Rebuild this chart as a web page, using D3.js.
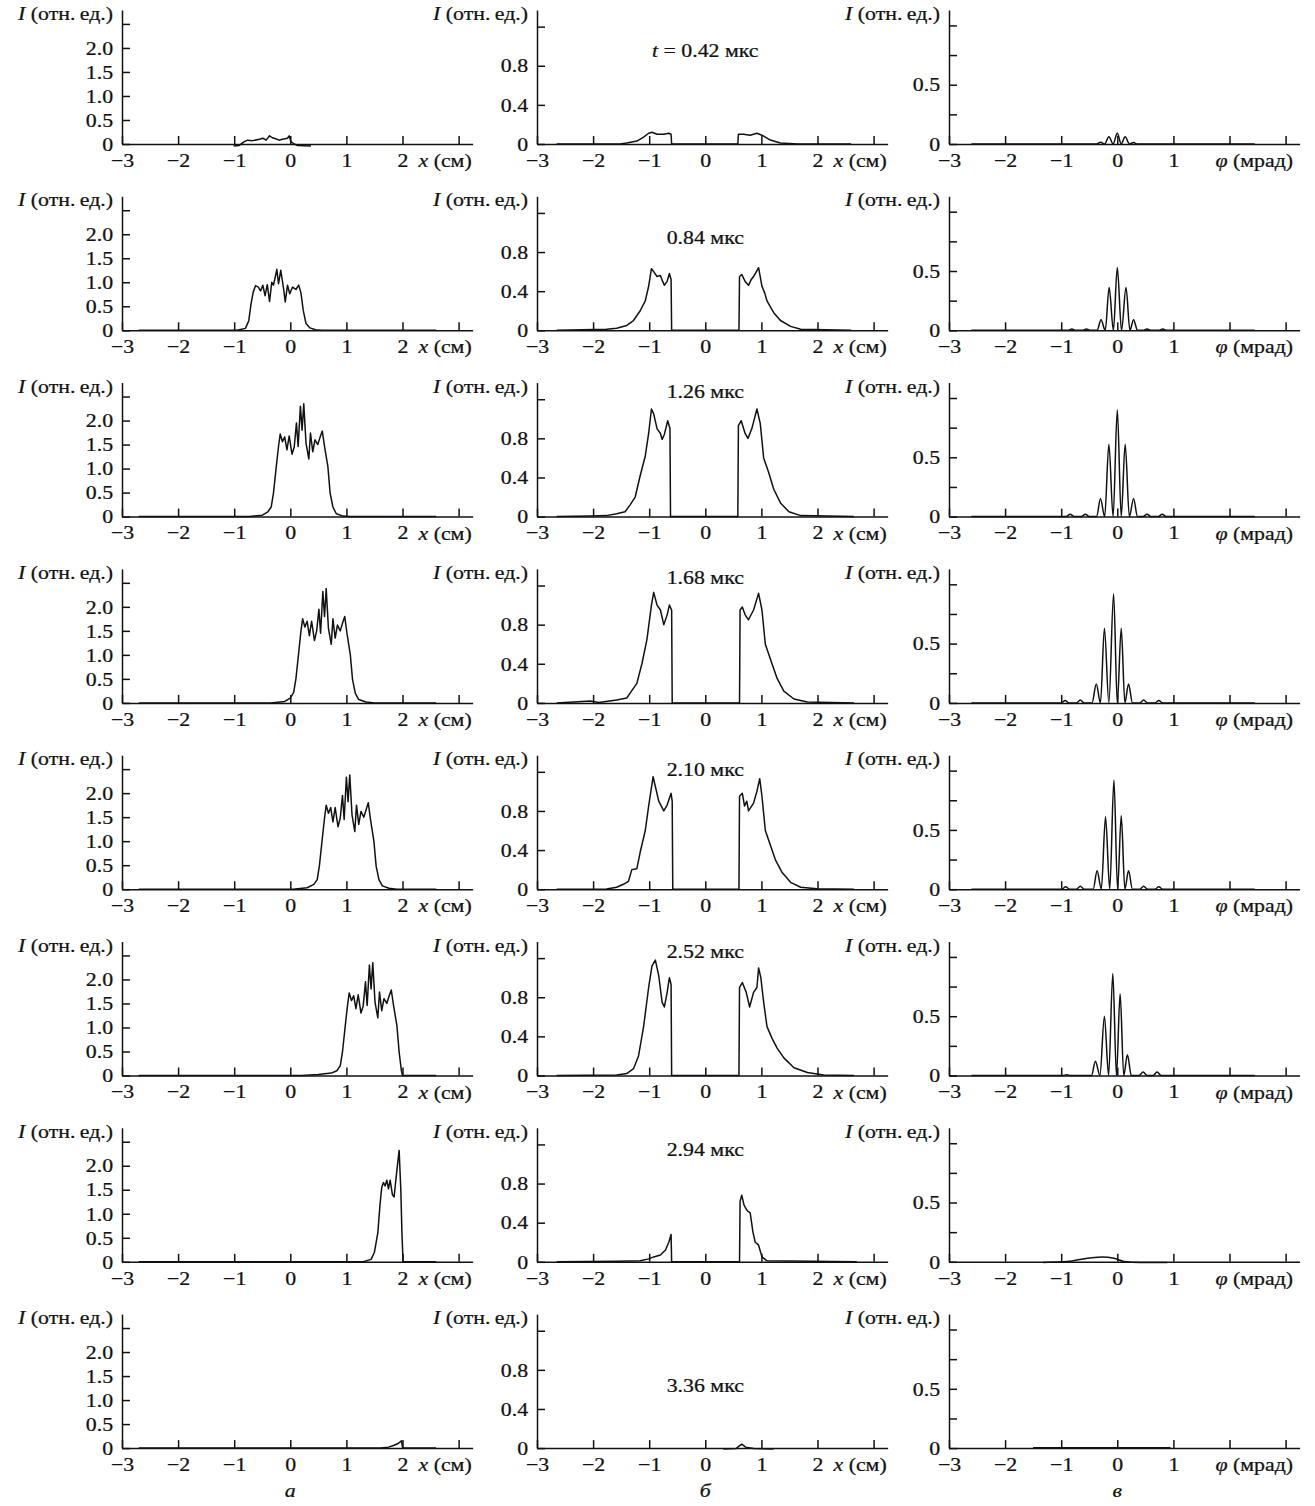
<!DOCTYPE html>
<html>
<head>
<meta charset="utf-8">
<script src="https://cdn.jsdelivr.net/npm/d3@7"></script>
<style>
body { margin: 0; background: #fff; }
svg text { font-family: "Liberation Serif", "Times New Roman", serif; font-size: 19.5px; fill: #111; stroke: #111; stroke-width: 0.25px; white-space: pre; }
</style>
</head>
<body>
<div id="vis"></div>
<script>
// tick values and labels
const xTicks = [-3, -2, -1, 0, 1, 2, 3]
const yTicksA = [0, 0.5, 1, 1.5, 2, 2.5]
const yLabelsA = ['0', '0.5', '1.0', '1.5', '2.0', '']
const yTicksB = [0, 0.4, 0.8, 1.2]
const yLabelsB = ['0', '0.4', '0.8', '']
const yTicksC = [0, 0.25, 0.5, 0.75, 1]
const yLabelsC = ['0', '', '0.5', '', '']
const times = ['0.42', '0.84', '1.26', '1.68', '2.10', '2.52', '2.94', '3.36']
const columnNames = ['а', 'б', 'в']

// column а : near field, x (cm) vs I
const aRow1 = [[-1.01,-0.04],[-0.91,-0.03],[-0.82,0.05],[-0.76,0.08],[-0.67,0.07],[-0.55,0.1],[-0.49,0.12],[-0.43,0.08],[-0.37,0.17],[-0.32,0.13],[-0.26,0.11],[-0.2,0.08],[-0.14,0.1],[-0.05,0.12],[-0.02,0.17],[0.01,0.05],[0.07,0],[0.13,-0.03],[0.37,-0.04]]
const aRow2 = [[-2.7,0],[-0.95,0],[-0.8,0.04],[-0.74,0.2],[-0.7,0.55],[-0.66,0.8],[-0.62,0.93],[-0.57,0.9],[-0.53,0.82],[-0.49,0.94],[-0.45,0.72],[-0.41,0.95],[-0.37,0.6],[-0.33,1.0],[-0.3,0.94],[-0.27,1.1],[-0.24,1.27],[-0.21,0.97],[-0.17,1.25],[-0.12,0.87],[-0.09,0.59],[-0.05,0.94],[-0.01,0.76],[0.04,0.9],[0.1,0.85],[0.15,0.94],[0.19,0.78],[0.23,0.42],[0.28,0.14],[0.35,0.05],[0.45,0.01],[0.55,0],[2.6,0]]
const aRow3 = [[-2.7,0],[-0.73,0],[-0.5,0.03],[-0.4,0.1],[-0.34,0.2],[-0.3,0.49],[-0.25,1.04],[-0.21,1.46],[-0.18,1.72],[-0.14,1.56],[-0.1,1.66],[-0.06,1.39],[-0.02,1.68],[0.03,1.3],[0.07,1.45],[0.11,1.95],[0.14,1.46],[0.18,2.3],[0.21,1.8],[0.24,2.35],[0.28,1.53],[0.33,1.2],[0.36,1.74],[0.4,1.35],[0.44,1.6],[0.49,1.5],[0.53,1.65],[0.57,1.78],[0.61,1.46],[0.67,1.04],[0.71,0.49],[0.76,0.2],[0.82,0.06],[0.94,0.01],[1.06,0],[2.6,0]]
const aRow4 = [[-2.7,0],[-0.35,0],[-0.1,0.03],[0.0,0.1],[0.06,0.22],[0.1,0.5],[0.15,1.05],[0.19,1.5],[0.22,1.75],[0.26,1.58],[0.3,1.7],[0.34,1.4],[0.38,1.7],[0.43,1.3],[0.47,1.5],[0.51,1.95],[0.54,1.45],[0.58,2.32],[0.61,1.8],[0.64,2.38],[0.68,1.55],[0.73,1.22],[0.76,1.75],[0.8,1.35],[0.84,1.62],[0.89,1.5],[0.93,1.66],[0.97,1.8],[1.01,1.45],[1.07,1.0],[1.11,0.48],[1.16,0.2],[1.22,0.07],[1.35,0.02],[1.5,0],[2.6,0]]
const aRow5 = [[-2.7,0],[0.05,0],[0.3,0.03],[0.42,0.1],[0.48,0.2],[0.52,0.5],[0.57,1.05],[0.61,1.48],[0.64,1.75],[0.68,1.58],[0.72,1.7],[0.76,1.4],[0.8,1.7],[0.85,1.3],[0.89,1.48],[0.93,1.95],[0.96,1.45],[1.0,2.33],[1.03,1.82],[1.06,2.38],[1.1,1.55],[1.15,1.2],[1.18,1.75],[1.22,1.35],[1.26,1.62],[1.31,1.5],[1.35,1.65],[1.39,1.8],[1.43,1.45],[1.49,1.0],[1.53,0.48],[1.58,0.2],[1.64,0.07],[1.76,0.02],[1.9,0],[2.6,0]]
const aRow6 = [[-2.7,0],[0.2,0],[0.5,0.02],[0.73,0.05],[0.83,0.1],[0.89,0.2],[0.93,0.49],[0.98,1.04],[1.02,1.46],[1.05,1.72],[1.09,1.56],[1.13,1.66],[1.17,1.39],[1.21,1.68],[1.26,1.3],[1.3,1.45],[1.34,1.95],[1.37,1.46],[1.41,2.3],[1.44,1.8],[1.47,2.35],[1.51,1.53],[1.56,1.2],[1.59,1.74],[1.63,1.35],[1.67,1.6],[1.72,1.5],[1.76,1.65],[1.8,1.78],[1.84,1.46],[1.9,1.04],[1.94,0.49],[1.98,0.1],[2.0,0],[2.6,0]]
const aRow7 = [[-2.7,0],[1.3,0],[1.44,0.05],[1.5,0.2],[1.56,0.6],[1.6,1.2],[1.63,1.55],[1.66,1.65],[1.69,1.58],[1.72,1.7],[1.75,1.52],[1.78,1.7],[1.82,1.4],[1.85,1.35],[1.89,1.8],[1.94,2.32],[1.97,1.5],[1.99,0.6],[2.01,0],[2.6,0]]
const aRow8 = [[-2.7,0],[1.6,0],[1.75,0.02],[1.85,0.06],[1.93,0.1],[1.98,0.15],[2.0,0.02],[2.02,0],[2.6,0]]

// column б : x (cm) vs I, two wings around the aperture
const bRow1 = [[-2.65,0],[-1.52,0],[-1.4,0.01],[-1.22,0.03],[-1.1,0.07],[-1.01,0.11],[-0.95,0.12],[-0.86,0.1],[-0.74,0.1],[-0.65,0.11],[-0.61,0.1],[-0.6,0],[0.58,0],[0.59,0.1],[0.68,0.1],[0.8,0.09],[0.92,0.11],[1.01,0.09],[1.16,0.04],[1.34,0.01],[1.64,0],[2.6,0]]
const bRow2 = [[-2.65,0],[-1.76,0.01],[-1.58,0.02],[-1.4,0.05],[-1.28,0.1],[-1.16,0.2],[-1.07,0.3],[-1.01,0.45],[-0.96,0.63],[-0.92,0.6],[-0.86,0.55],[-0.8,0.56],[-0.76,0.5],[-0.73,0.46],[-0.68,0.5],[-0.64,0.58],[-0.61,0.52],[-0.6,0],[0.6,0],[0.61,0.55],[0.65,0.57],[0.71,0.5],[0.77,0.46],[0.82,0.52],[0.86,0.55],[0.95,0.64],[1.01,0.45],[1.06,0.38],[1.1,0.3],[1.16,0.24],[1.22,0.18],[1.34,0.1],[1.52,0.04],[1.7,0.01],[2.6,0]]
const bRow3 = [[-2.65,0],[-2.05,0.005],[-1.76,0.01],[-1.58,0.03],[-1.43,0.05],[-1.34,0.12],[-1.25,0.2],[-1.16,0.42],[-1.07,0.62],[-1.01,0.85],[-0.96,1.1],[-0.92,1.05],[-0.86,0.9],[-0.8,0.85],[-0.77,0.79],[-0.73,0.84],[-0.67,0.98],[-0.63,0.9],[-0.62,0],[0.58,0],[0.59,0.93],[0.64,0.98],[0.71,0.85],[0.76,0.8],[0.83,0.9],[0.92,1.1],[0.98,0.95],[1.04,0.6],[1.13,0.45],[1.22,0.28],[1.34,0.14],[1.49,0.05],[1.7,0.01],[2.65,0]]
const bRow4 = [[-2.65,0],[-2.05,0.02],[-1.9,0.005],[-1.58,0.03],[-1.4,0.05],[-1.34,0.1],[-1.22,0.2],[-1.13,0.4],[-1.04,0.65],[-0.96,1.0],[-0.92,1.13],[-0.86,1.0],[-0.8,0.95],[-0.74,0.8],[-0.68,0.9],[-0.64,1.0],[-0.6,0.95],[-0.59,0],[0.61,0],[0.62,0.95],[0.66,0.98],[0.71,0.9],[0.77,0.85],[0.86,0.95],[0.95,1.12],[1.01,0.95],[1.07,0.6],[1.16,0.45],[1.28,0.25],[1.4,0.12],[1.58,0.04],[1.82,0.01],[2.65,0]]
const bRow5 = [[-2.65,0],[-1.76,0.003],[-1.58,0.02],[-1.46,0.05],[-1.37,0.08],[-1.31,0.2],[-1.22,0.21],[-1.16,0.38],[-1.07,0.6],[-1.01,0.85],[-0.93,1.15],[-0.89,1.05],[-0.83,0.9],[-0.74,0.8],[-0.68,0.86],[-0.61,0.98],[-0.59,0.9],[-0.58,0],[0.6,0],[0.61,0.95],[0.66,0.98],[0.7,0.85],[0.74,0.9],[0.77,0.8],[0.86,0.88],[0.92,1.0],[0.97,1.13],[1.01,0.95],[1.07,0.6],[1.16,0.45],[1.25,0.3],[1.37,0.17],[1.52,0.07],[1.7,0.02],[1.99,0.005],[2.65,0]]
const bRow6 = [[-2.65,0],[-1.58,0.005],[-1.4,0.02],[-1.28,0.07],[-1.19,0.2],[-1.1,0.5],[-1.01,0.9],[-0.95,1.12],[-0.89,1.18],[-0.83,1.02],[-0.77,0.75],[-0.73,0.7],[-0.68,0.85],[-0.64,1.0],[-0.61,0.93],[-0.6,0],[0.6,0],[0.61,0.9],[0.66,0.95],[0.73,0.85],[0.79,0.7],[0.86,0.85],[0.92,0.9],[0.95,1.1],[0.99,1.0],[1.04,0.75],[1.1,0.5],[1.19,0.38],[1.28,0.28],[1.4,0.18],[1.58,0.08],[1.82,0.03],[2.11,0.005],[2.65,0]]
const bRow7 = [[-2.65,0],[-1.58,0.005],[-1.16,0.01],[-1.01,0.03],[-0.92,0.05],[-0.8,0.07],[-0.71,0.12],[-0.65,0.2],[-0.61,0.28],[-0.6,0],[0.61,0],[0.62,0.62],[0.65,0.68],[0.69,0.58],[0.75,0.52],[0.8,0.5],[0.85,0.3],[0.89,0.2],[0.95,0.17],[1.01,0.05],[1.1,0.01],[2.7,0]]
const bRow8 = [[0.32,-0.01],[0.55,-0.005],[0.6,0.02],[0.65,0.04],[0.72,0.01],[0.86,-0.005],[1.22,-0.01]]

// column в : far field, φ (mrad) vs I
const cRow1 = [[-2.6,0],[-0.37,0],[-0.3,0.015],[-0.225,0],[-0.15,0.062],[-0.075,0],[0.0,0.09],[0.07,0],[0.14,0.062],[0.215,0],[0.29,0.012],[0.36,0],[2.45,0]]
const cRow2 = [[-2.6,0],[-0.88,0],[-0.81,0.01],[-0.74,0],[-0.62,0],[-0.55,0.012],[-0.48,0],[-0.36,0],[-0.29,0.09],[-0.215,0],[-0.145,0.36],[-0.07,0],[0.0,0.53],[0.075,0],[0.155,0.36],[0.225,0],[0.29,0.09],[0.36,0],[0.46,0],[0.53,0.012],[0.6,0],[0.74,0],[0.81,0.01],[0.88,0],[2.45,0]]
const cRow3 = [[-2.6,0],[-0.91,0],[-0.84,0.02],[-0.77,0],[-0.64,0],[-0.57,0.02],[-0.5,0],[-0.37,0],[-0.3,0.15],[-0.225,0],[-0.15,0.61],[-0.075,0],[0.0,0.9],[0.07,0],[0.14,0.61],[0.215,0],[0.29,0.15],[0.36,0],[0.46,0],[0.53,0.02],[0.6,0],[0.73,0],[0.8,0.02],[0.87,0],[2.45,0]]
const cRow4 = [[-2.6,0],[-1.0,0],[-0.93,0.02],[-0.86,0],[-0.73,0],[-0.66,0.025],[-0.59,0],[-0.45,0],[-0.375,0.16],[-0.3,0],[-0.23,0.63],[-0.15,0],[-0.066,0.92],[0.0,0],[0.07,0.63],[0.135,0],[0.2,0.16],[0.27,0],[0.4,0],[0.47,0.025],[0.54,0],[0.67,0],[0.74,0.02],[0.81,0],[2.45,0]]
const cRow5 = [[-2.6,0],[-0.99,0],[-0.92,0.02],[-0.85,0],[-0.73,0],[-0.66,0.025],[-0.59,0],[-0.43,0],[-0.36,0.155],[-0.285,0],[-0.21,0.61],[-0.135,0],[-0.06,0.92],[0.005,0],[0.07,0.62],[0.135,0],[0.2,0.155],[0.27,0],[0.4,0],[0.47,0.025],[0.54,0],[0.67,0],[0.74,0.02],[0.81,0],[2.45,0]]
const cRow6 = [[-2.6,0],[-0.97,0],[-0.9,0.006],[-0.83,0],[-0.46,0],[-0.39,0.12],[-0.31,0],[-0.23,0.5],[-0.155,0],[-0.08,0.86],[-0.015,0],[0.05,0.69],[0.115,0],[0.18,0.175],[0.25,0],[0.39,0],[0.46,0.03],[0.53,0],[0.64,0],[0.71,0.03],[0.78,0],[2.45,0]]
const cRow7 = [[-1.32,-0.005],[-1.0,0],[-0.85,0.005],[-0.67,0.02],[-0.45,0.035],[-0.27,0.04],[-0.06,0.03],[0.12,0.003],[0.4,-0.005],[0.89,-0.005]]
const cRow8 = [[-1.5,0.003],[0.95,0.003]]

const columns = [
    [aRow1, aRow2, aRow3, aRow4, aRow5, aRow6, aRow7, aRow8],
    [bRow1, bRow2, bRow3, bRow4, bRow5, bRow6, bRow7, bRow8],
    [cRow1, cRow2, cRow3, cRow4, cRow5, cRow6, cRow7, cRow8]
]

// layout
const width = 1315, height = 1506
const firstZero = 144, rowStep = 186.3
const unit = 56.1
const colLeft = [122, 537, 949]
const plotH = 134
const yMax = [2.79, 1.37, 1.13]
const yTicks = [yTicksA, yTicksB, yTicksC]
const yLabels = [yLabelsA, yLabelsB, yLabelsC]
const timeDy = [87, 86, 119, 119, 113, 118, 106, 56]
const stretch = 1.12

let svg = d3.select('#vis').append('svg')
    .attr('width', width)
    .attr('height', height)

// text with a small horizontal stretch, parts are [string, italic]
function label(parent, x, y, parts, anchor){
    let t = parent.append('text')
        .attr('transform', `translate(${x},${y}) scale(${stretch},1)`)
        .attr('text-anchor', anchor)
    parts.forEach(p => t.append('tspan')
        .attr('font-style', p[1] ? 'italic' : null)
        .text(p[0]))
}

const fmt = d3.format('d')

columns.forEach((rows, c) => {
    let x = d3.scaleLinear([-3, 3.25], [colLeft[c], colLeft[c] + 6.25 * unit])

    rows.forEach((series, r) => {
        let z = firstZero + r * rowStep
        let y = d3.scaleLinear([0, yMax[c]], [z, z - plotH])
        let g = svg.append('g')

        let xAxis = d3.axisBottom(x)
            .tickValues(xTicks)
            .tickSizeInner(-8)
            .tickSizeOuter(0)
            .tickPadding(9)
            .tickFormat(d => (d === 3 || (c === 2 && d === 2)) ? '' : fmt(d))

        let yAxis = d3.axisLeft(y)
            .tickValues(yTicks[c])
            .tickSizeInner(-8)
            .tickSizeOuter(0)
            .tickPadding(8)
            .tickFormat((d, i) => yLabels[c][i])

        g.append('g')
            .attr('transform', `translate(0,${z})`)
            .call(xAxis)
            .call(a => a.selectAll('.tick text').attr('transform', `scale(${stretch},1)`))

        g.append('g')
            .attr('transform', `translate(${colLeft[c]},0)`)
            .call(yAxis)
            .call(a => a.selectAll('.tick text').attr('transform', `scale(${stretch},1)`))

        g.selectAll('.domain, .tick line')
            .attr('stroke', '#111')
            .attr('stroke-width', 1.5)

        // y title
        label(g, colLeft[c] - 9, z - 124, [['I', true], [' (отн.\u2009ед.)', false]], 'end')

        // x title
        if (c < 2) {
            label(g, x(2) + 16, z + 23, [['x', true], [' (см)', false]], 'start')
        } else {
            label(g, x(2) - 14, z + 23, [['φ', true], [' (мрад)', false]], 'start')
        }

        // time stamp in the middle column
        if (c === 1) {
            let parts = r === 0 ? [['t', true], [' = ' + times[r] + ' мкс', false]] : [[times[r] + ' мкс', false]]
            label(g, x(0), z - timeDy[r], parts, 'middle')
        }

        let line = d3.line()
            .x(d => x(d[0]))
            .y(d => y(d[1]))
            .curve(c === 2 ? d3.curveMonotoneX : d3.curveLinear)

        g.append('path')
            .datum(series)
            .attr('d', line)
            .attr('fill', 'none')
            .attr('stroke', '#111')
            .attr('stroke-width', 1.5)
            .attr('stroke-linejoin', 'round')
    })

    // column letter under the last row
    label(svg, x(0), 1497, [[columnNames[c], true]], 'middle')
})
</script>
</body>
</html>
